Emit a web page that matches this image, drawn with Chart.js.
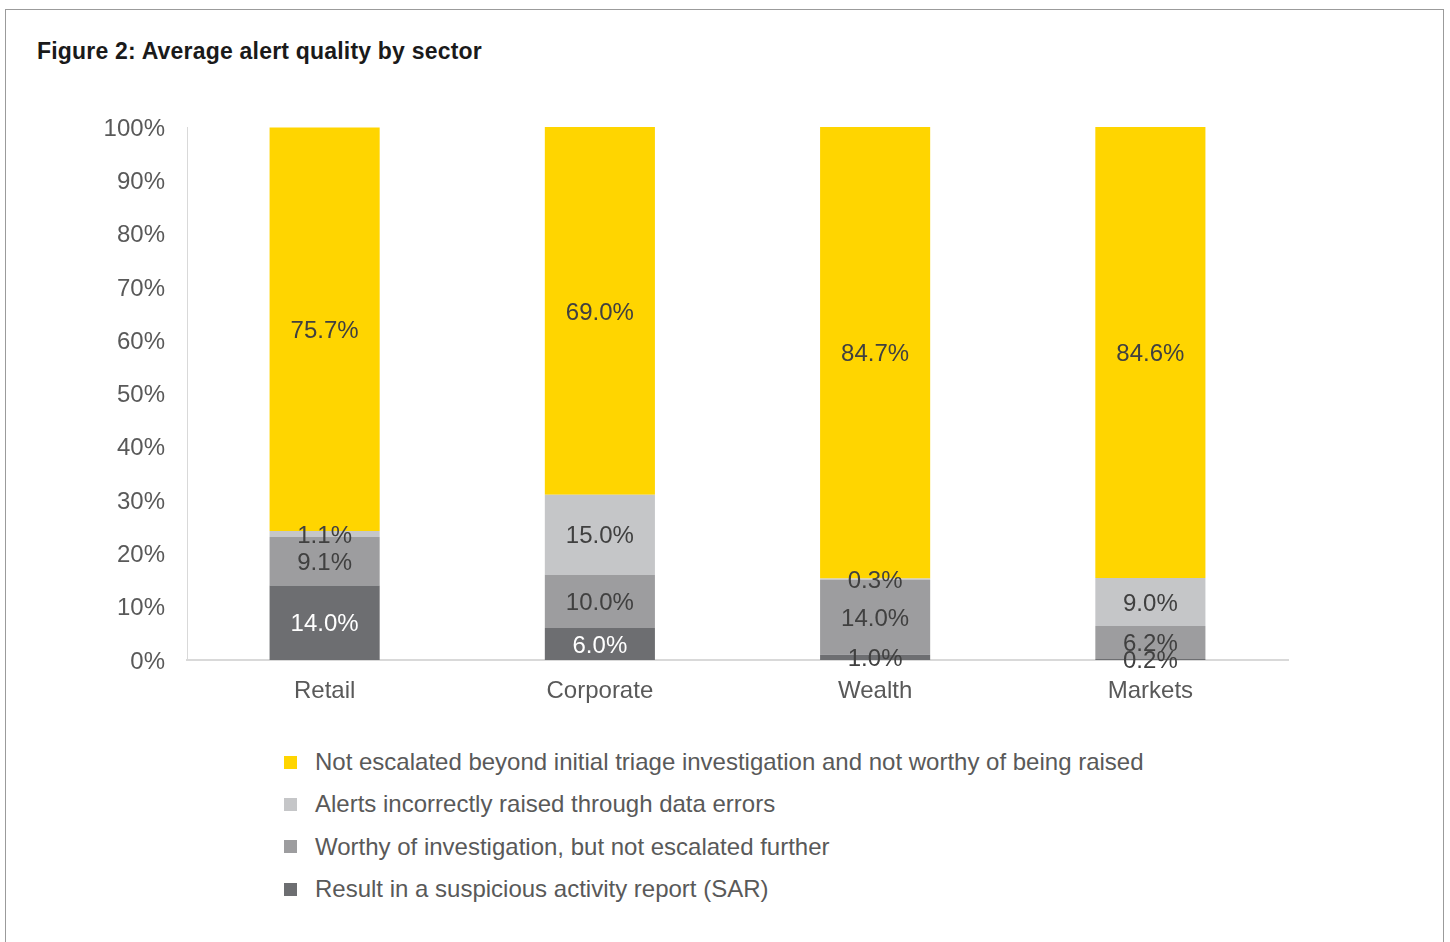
<!DOCTYPE html>
<html>
<head>
<meta charset="utf-8">
<script src="https://cdn.jsdelivr.net/npm/chart.js@4"></script>
<style>
  html, body { margin: 0; padding: 0; background: #fff; }
  body { width: 1450px; height: 942px; position: relative; overflow: hidden; font-family: "Liberation Sans", Arial, sans-serif; }
  .frame { position: absolute; left: 5px; top: 9px; width: 1437px; height: 960px; border: 1px solid #9b9b9b; }
  .title { position: absolute; left: 37px; top: 38px; font-family: "Liberation Sans", Arial, sans-serif; font-weight: bold; font-size: 23px; color: #1a1a1a; letter-spacing: 0.2px; }
  .chart-box { position: absolute; left: 0; top: 0; width: 1450px; height: 720px; }
  .legend { position: absolute; left: 284px; top: 741px; color: #595959; font-size: 24px; }
  .legend div { height: 42.3px; display: flex; align-items: center; }
  .legend span.box { display: inline-block; width: 13px; height: 13px; margin-right: 18px; }
</style>
</head>
<body>
<div class="frame"></div>
<div class="title">Figure 2: Average alert quality by sector</div>
<div class="chart-box"><canvas id="chart"></canvas></div>
<div class="legend" id="legend"></div>

<script>
// ---------- Data ----------
const sectors = ['Retail', 'Corporate', 'Wealth', 'Markets'];
const yTicks = [0, 10, 20, 30, 40, 50, 60, 70, 80, 90, 100];

// stacked bottom to top
const sarValues = [14.0, 6.0, 1.0, 0.2];
const worthyValues = [9.1, 10.0, 14.0, 6.2];
const dataErrorValues = [1.1, 15.0, 0.3, 9.0];
const notEscalatedValues = [75.7, 69.0, 84.7, 84.6];

const seriesNames = [
  'Result in a suspicious activity report (SAR)',
  'Worthy of investigation, but not escalated further',
  'Alerts incorrectly raised through data errors',
  'Not escalated beyond initial triage investigation and not worthy of being raised'
];

const DARK = '#404040';
const TEXT = '#595959';
const FONT = '"Liberation Sans", Arial, sans-serif';

const datasets = [
  { label: seriesNames[0], data: sarValues, backgroundColor: '#6d6e71', labelColors: ['#ffffff', '#ffffff', DARK, DARK] },
  { label: seriesNames[1], data: worthyValues, backgroundColor: '#9d9d9f', labelColors: DARK },
  { label: seriesNames[2], data: dataErrorValues, backgroundColor: '#c5c6c8', labelColors: DARK },
  { label: seriesNames[3], data: notEscalatedValues, backgroundColor: '#ffd500', labelColors: DARK }
].map(ds => ({ ...ds, barPercentage: 0.4, categoryPercentage: 1, borderWidth: 0 }));

// ---------- Value labels inside each segment ----------
const segmentLabels = {
  id: 'segmentLabels',
  afterDatasetsDraw(chart) {
    const ctx = chart.ctx;
    ctx.save();
    ctx.font = '24px ' + FONT;
    ctx.textAlign = 'center';
    ctx.textBaseline = 'middle';
    chart.data.datasets.forEach((ds, i) => {
      const meta = chart.getDatasetMeta(i);
      meta.data.forEach((bar, j) => {
        const c = Array.isArray(ds.labelColors) ? ds.labelColors[j] : ds.labelColors;
        ctx.fillStyle = c;
        ctx.fillText(ds.data[j].toFixed(1) + '%', bar.x, (bar.y + bar.base) / 2 + 2);
      });
    });
    ctx.restore();
  }
};

// ---------- Chart ----------
new Chart(document.getElementById('chart'), {
  type: 'bar',
  data: { labels: sectors, datasets },
  options: {
    responsive: true,
    maintainAspectRatio: false,
    animation: false,
    layout: { padding: { top: 127, right: 162, bottom: 0, left: 0 } },
    plugins: { legend: { display: false }, tooltip: { enabled: false } },
    scales: {
      x: {
        stacked: true,
        grid: { display: false, drawTicks: false },
        border: { color: '#d9d9d9', width: 2 },
        ticks: { color: TEXT, font: { size: 24, family: FONT }, padding: 17 },
        afterFit(scale) { scale.height = 60; }
      },
      y: {
        stacked: true,
        min: 0,
        max: 100,
        afterBuildTicks(scale) { scale.ticks = yTicks.map(v => ({ value: v })); },
        grid: { display: false, drawTicks: false },
        border: { color: '#d9d9d9', width: 1 },
        ticks: {
          color: TEXT,
          font: { size: 24, family: FONT },
          padding: 22,
          labelOffset: 2,
          callback: v => v + '%'
        },
        afterFit(scale) { scale.width = 187; }
      }
    }
  },
  plugins: [segmentLabels]
});

// ---------- Legend (top series first) ----------
const legend = document.getElementById('legend');
datasets.slice().reverse().forEach(ds => {
  const row = document.createElement('div');
  row.innerHTML = `<span class="box" style="background:${ds.backgroundColor}"></span>${ds.label}`;
  legend.appendChild(row);
});
</script>
</body>
</html>
